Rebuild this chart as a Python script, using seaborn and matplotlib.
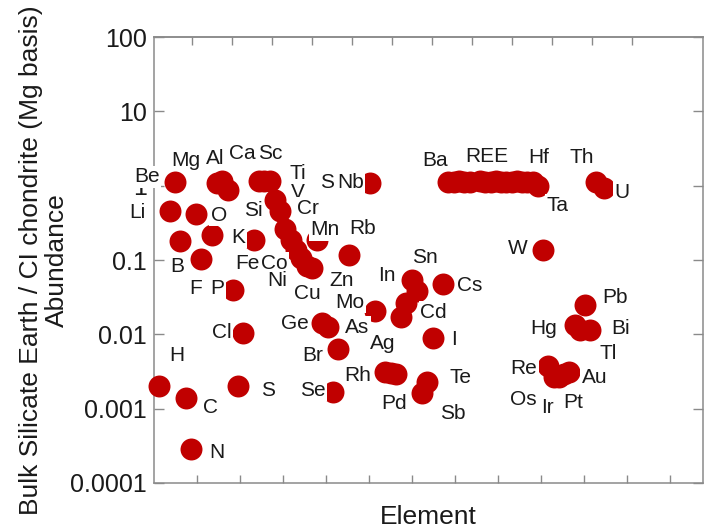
import numpy as np
import pandas as pd
import matplotlib
matplotlib.use("Agg")
import matplotlib.pyplot as plt
import seaborn as sns
from matplotlib.ticker import FixedLocator, NullFormatter, FixedFormatter

# plot position ~ atomic number (Th/U squeezed in after Bi)
elements = ['H', 'Li', 'Be', 'B', 'C', 'N', 'O', 'F', 'Na', 'Mg', 'Al', 'Si', 'P', 'S', 'Cl',
            'K', 'Ca', 'Sc', 'Ti', 'V', 'Cr', 'Mn', 'Fe', 'Co', 'Ni', 'Cu', 'Zn', 'Ga', 'Ge',
            'As', 'Se', 'Br', 'Rb', 'Nb', 'Mo', 'Ru', 'Rh', 'Pd', 'Ag', 'Cd', 'In', 'Sn', 'Sb',
            'Te', 'I', 'Cs', 'Ba', 'La', 'Ce', 'Pr', 'Nd', 'Sm', 'Eu', 'Gd', 'Tb', 'Dy', 'Ho',
            'Er', 'Tm', 'Yb', 'Lu', 'Hf', 'Ta', 'W', 'Re', 'Os', 'Ir', 'Pt', 'Au', 'Hg', 'Tl',
            'Pb', 'Bi', 'Th', 'U']
position = [1, 3, 4, 5, 6, 7, 8, 9, 11, 12, 13, 14, 15, 16, 17,
            19, 20, 21, 22, 23, 24, 25, 26, 27, 28, 29, 30, 31, 32,
            33, 34, 35, 37, 41, 42, 44, 45, 46, 47, 48, 49, 50, 51,
            52, 53, 55, 56, 57, 58, 59, 60, 62, 63, 64, 65, 66, 67,
            68, 69, 70, 71, 72, 73, 74, 75, 76, 77, 78, 79, 80, 81,
            82, 83, 84, 85.5]
abundance = [0.0020, 0.455, 1.12, 0.18, 0.0014, 0.00029, 0.415, 0.103, 0.22, 1.10, 1.16, 0.87, 0.040, 0.0020, 0.0104,
             0.185, 1.16, 1.16, 1.16, 0.64, 0.45, 0.26, 0.185, 0.137, 0.105, 0.083, 0.078, 0.186, 0.0142,
             0.0125, 0.00167, 0.0063, 0.116, 1.10, 0.0205, 0.0031, 0.0030, 0.0029, 0.017, 0.026, 0.054, 0.038, 0.0016,
             0.0023, 0.0089, 0.047, 1.13, 1.13, 1.14, 1.13, 1.13, 1.14, 1.13, 1.13, 1.14, 1.13, 1.13,
             1.13, 1.14, 1.13, 1.13, 1.12, 1.0, 0.136, 0.0038, 0.0027, 0.0027, 0.0029, 0.0031, 0.0133, 0.0115,
             0.025, 0.0115, 1.12, 0.93]

# text labels next to the points
label_text = ['Be', 'Mg', 'Al', 'Ca', 'Sc', 'Ti', 'V', 'Cr', 'Si', 'Li', 'O', 'K', 'B', 'F', 'P',
              'Fe', 'Co', 'Ni', 'Cu', 'Zn', 'Mn', 'Rb', 'Sr', 'Nb', 'In', 'Mo', 'Ge', 'As', 'Cl',
              'Ba', 'REE', 'Hf', 'Th', 'Ta', 'U', 'W', 'Sn', 'Cs', 'Cd', 'Pb', 'Hg', 'Bi', 'Tl',
              'Re', 'Au', 'Os', 'Ir', 'Pt', 'Te', 'Sb', 'Pd', 'I', 'Ag', 'H', 'C', 'N', 'S',
              'Se', 'Br', 'Rh']
label_x = [-1.4, 6.1, 11.6, 16.7, 22.1, 27.4, 27.4, 29.3, 18.8, -3.2, 12.4, 16.0, 4.4, 8.0, 12.0,
           17.7, 22.8, 23.4, 29.1, 35.6, 32.5, 39.7, 33.5, 37.3, 44.3, 37.3, 26.8, 38.6, 12.9,
           53.4, 63.3, 73.2, 81.4, 76.8, 89.0, 69.2, 51.5, 60.1, 53.2, 87.6, 74.0, 88.8, 86.3,
           70.3, 83.8, 70.3, 74.9, 79.7, 58.2, 56.8, 45.6, 57.0, 43.5, 4.4, 10.8, 12.0, 21.7,
           30.2, 30.2, 38.8]
label_y = [1.31, 2.21, 2.35, 2.75, 2.75, 1.48, 0.82, 0.50, 0.47, 0.44, 0.40, 0.203, 0.0828, 0.0418, 0.0418,
           0.0908, 0.0908, 0.0536, 0.0359, 0.0536, 0.255, 0.269, 1.12, 1.12, 0.0627, 0.0271, 0.01416, 0.0125, 0.0107,
           2.21, 2.50, 2.43, 2.43, 0.548, 0.82, 0.145, 0.109, 0.0459, 0.0199, 0.0317, 0.0121, 0.0121, 0.00558,
           0.00351, 0.00265, 0.00134, 0.00105, 0.00122, 0.00265, 0.000869, 0.00119, 0.00861, 0.00762, 0.00525, 0.00105, 0.00026, 0.00177,
           0.00177, 0.00525, 0.00282]

y_ticks = [1e-4, 1e-3, 1e-2, 1e-1, 1, 10, 100]
y_ticklabels = ['0.0001', '0.001', '0.01', '0.1', '1', '10', '100']

sns.set_style("white")
plt.rcParams['font.family'] = ['Liberation Sans', 'DejaVu Sans']

df = pd.DataFrame({'element': elements, 'position': position, 'abundance': abundance})

fig = plt.figure(figsize=(7.04, 5.31), dpi=100)
ax = fig.add_axes([154 / 704, 48 / 531, 549 / 704, 446 / 531])

sns.scatterplot(data=df, x='position', y='abundance', ax=ax, color='#C00000',
                s=250, linewidth=0, clip_on=False, zorder=2.6, legend=False)

ax.set_yscale('log')
ax.set_xlim(0, 104.4)
ax.set_ylim(1e-4, 100)

for txt, lx, ly in zip(label_text, label_x, label_y):
    ax.text(lx, ly, txt, ha='center', va='center', fontsize=15, color='#1a1a1a',
            zorder=3, bbox=dict(boxstyle='square,pad=0.08', fc='white', ec='none'))

ax.yaxis.set_major_locator(FixedLocator(y_ticks))
ax.yaxis.set_major_formatter(FixedFormatter(y_ticklabels))
ax.yaxis.set_minor_locator(FixedLocator([]))
ax.xaxis.set_major_locator(FixedLocator(np.arange(1, 13) * 8.175))
ax.xaxis.set_major_formatter(NullFormatter())

ax.tick_params(axis='y', which='major', direction='in', length=7, width=1, color='#8a8a8a',
               labelsize=18, labelcolor='#1a1a1a', pad=5, left=True, right=True)
ax.tick_params(axis='x', which='major', direction='in', length=6, width=1, color='#8a8a8a',
               bottom=True, top=False)

# top ticks sit a little tighter than the bottom ones in the original
top = ax.secondary_xaxis('top')
top.set_xticks(np.arange(1, 13) * 7.605 - 0.38)
top.xaxis.set_major_formatter(NullFormatter())
top.tick_params(direction='in', length=6, width=1, color='#8a8a8a')
top.spines['top'].set_color('#8a8a8a')
top.spines['top'].set_linewidth(1.1)

for sp in ax.spines.values():
    sp.set_color('#8a8a8a')
    sp.set_linewidth(1.1)

ax.set_xlabel('Element', fontsize=19, color='#1a1a1a', labelpad=12)
ax.set_ylabel('Bulk Silicate Earth / CI chondrite (Mg basis)\nAbundance', fontsize=19,
              color='#1a1a1a', linespacing=1.1)
ax.yaxis.set_label_coords(-0.155, 0.5)

fig.savefig('out.png', dpi=100)
